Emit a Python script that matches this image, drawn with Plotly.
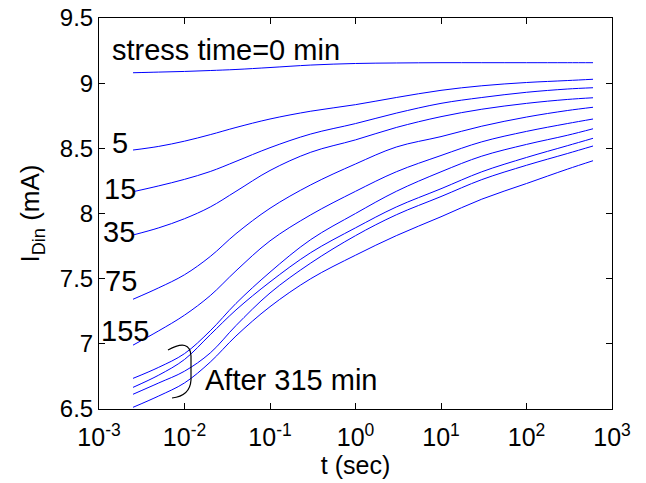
import plotly.graph_objects as go

# ---- data ----
t_sec = [0.0025, 0.005, 0.01, 0.02, 0.04, 0.1, 0.3, 1, 3, 10, 30, 100, 300, 600]

i_0min   = [9.08, 9.085, 9.09, 9.097, 9.105, 9.12, 9.139, 9.151, 9.155, 9.157, 9.157, 9.157, 9.157, 9.157]
i_5min   = [8.487, 8.515, 8.555, 8.605, 8.66, 8.725, 8.785, 8.835, 8.89, 8.945, 8.98, 9.005, 9.02, 9.03]
i_15min  = [8.167, 8.212, 8.262, 8.322, 8.40, 8.505, 8.61, 8.69, 8.77, 8.845, 8.89, 8.93, 8.955, 8.965]
i_35min  = [7.835, 7.89, 7.96, 8.05, 8.17, 8.33, 8.47, 8.565, 8.66, 8.743, 8.80, 8.845, 8.875, 8.888]
i_75min  = [7.342, 7.43, 7.53, 7.67, 7.845, 8.04, 8.22, 8.38, 8.51, 8.59, 8.67, 8.74, 8.79, 8.815]
i_155min = [6.99, 7.10, 7.22, 7.37, 7.56, 7.79, 7.99, 8.17, 8.32, 8.445, 8.55, 8.63, 8.69, 8.725]
i_after_a = [6.735, 6.82, 6.925, 7.10, 7.31, 7.55, 7.80, 8.0, 8.17, 8.32, 8.44, 8.53, 8.60, 8.65]
i_after_b = [6.666, 6.76, 6.88, 7.07, 7.26, 7.475, 7.70, 7.89, 8.05, 8.19, 8.32, 8.43, 8.52, 8.577]
i_after_c = [6.613, 6.70, 6.79, 6.93, 7.14, 7.39, 7.62, 7.83, 7.99, 8.13, 8.26, 8.37, 8.46, 8.518]
i_after_d = [6.513, 6.60, 6.70, 6.86, 7.06, 7.285, 7.50, 7.68, 7.83, 7.975, 8.11, 8.23, 8.34, 8.405]

series = [i_0min, i_5min, i_15min, i_35min, i_75min, i_155min,
          i_after_a, i_after_b, i_after_c, i_after_d]

x_tickvals = [1e-3, 1e-2, 1e-1, 1, 10, 100, 1000]
x_ticktext = ["10<sup>-3</sup>", "10<sup>-2</sup>", "10<sup>-1</sup>", "10<sup>0</sup>",
              "10<sup>1</sup>", "10<sup>2</sup>", "10<sup>3</sup>"]
y_tickvals = [6.5, 7, 7.5, 8, 8.5, 9, 9.5]
y_ticktext = ["6.5", "7", "7.5", "8", "8.5", "9", "9.5"]

# ---- layout geometry (pixels) ----
W, H = 646, 483
PL, PR, PT, PB = 99, 612, 18, 409


def px(x):
    return (x - PL) / (PR - PL)


def py(y):
    return (PB - y) / (PB - PT)


FONT = "Liberation Sans, Arial, sans-serif"

fig = go.Figure()
for s in series:
    fig.add_trace(go.Scatter(x=t_sec, y=s, mode="lines",
                             line=dict(color="#0000ff", width=1, shape="spline", smoothing=1.0),
                             showlegend=False, hoverinfo="skip"))

axis_common = dict(showline=True, linecolor="black", linewidth=1, mirror="ticks",
                   ticks="inside", ticklen=6, tickcolor="black", tickwidth=1,
                   showgrid=False, zeroline=False)

fig.update_xaxes(type="log", range=[-3, 3], tickvals=x_tickvals, ticktext=x_ticktext,
                 tickfont=dict(family=FONT, size=25, color="black"), ticklabelstandoff=6,
                 title=dict(text="t (sec)", font=dict(family=FONT, size=25, color="black"), standoff=4),
                 **axis_common)
fig.update_yaxes(range=[6.5, 9.5], tickvals=y_tickvals, ticktext=y_ticktext,
                 tickfont=dict(family=FONT, size=24, color="black"),
                 title=dict(text="I<sub>Din</sub> (mA)", font=dict(family=FONT, size=26, color="black"), standoff=12),
                 **axis_common)

ann_font = dict(family=FONT, size=29, color="black")
labels = [
    ("stress time=0 min", 110, 50),
    ("5", 110, 143),
    ("15", 102, 189),
    ("35", 101, 232),
    ("75", 103, 281),
    ("155", 99, 331),
    ("After 315 min", 203, 380),
]
for txt, x, y in labels:
    fig.add_annotation(text=txt, xref="paper", yref="paper", x=px(x), y=py(y),
                       xanchor="left", yanchor="middle", showarrow=False, font=ann_font)

# brace
path = (f"M {px(168)},{py(350)} Q {px(190)},{py(338)} {px(191)},{py(356)} "
        f"L {px(191)},{py(380)} Q {px(190)},{py(396)} {px(172)},{py(398)}")
fig.add_shape(type="path", path=path, xref="paper", yref="paper",
              line=dict(color="black", width=1.2))

fig.update_layout(width=W, height=H, margin=dict(l=PL, r=W - PR, t=PT, b=H - PB, autoexpand=False),
                  plot_bgcolor="white", paper_bgcolor="white",
                  font=dict(family=FONT, color="black"))

fig.write_html("out.html")
